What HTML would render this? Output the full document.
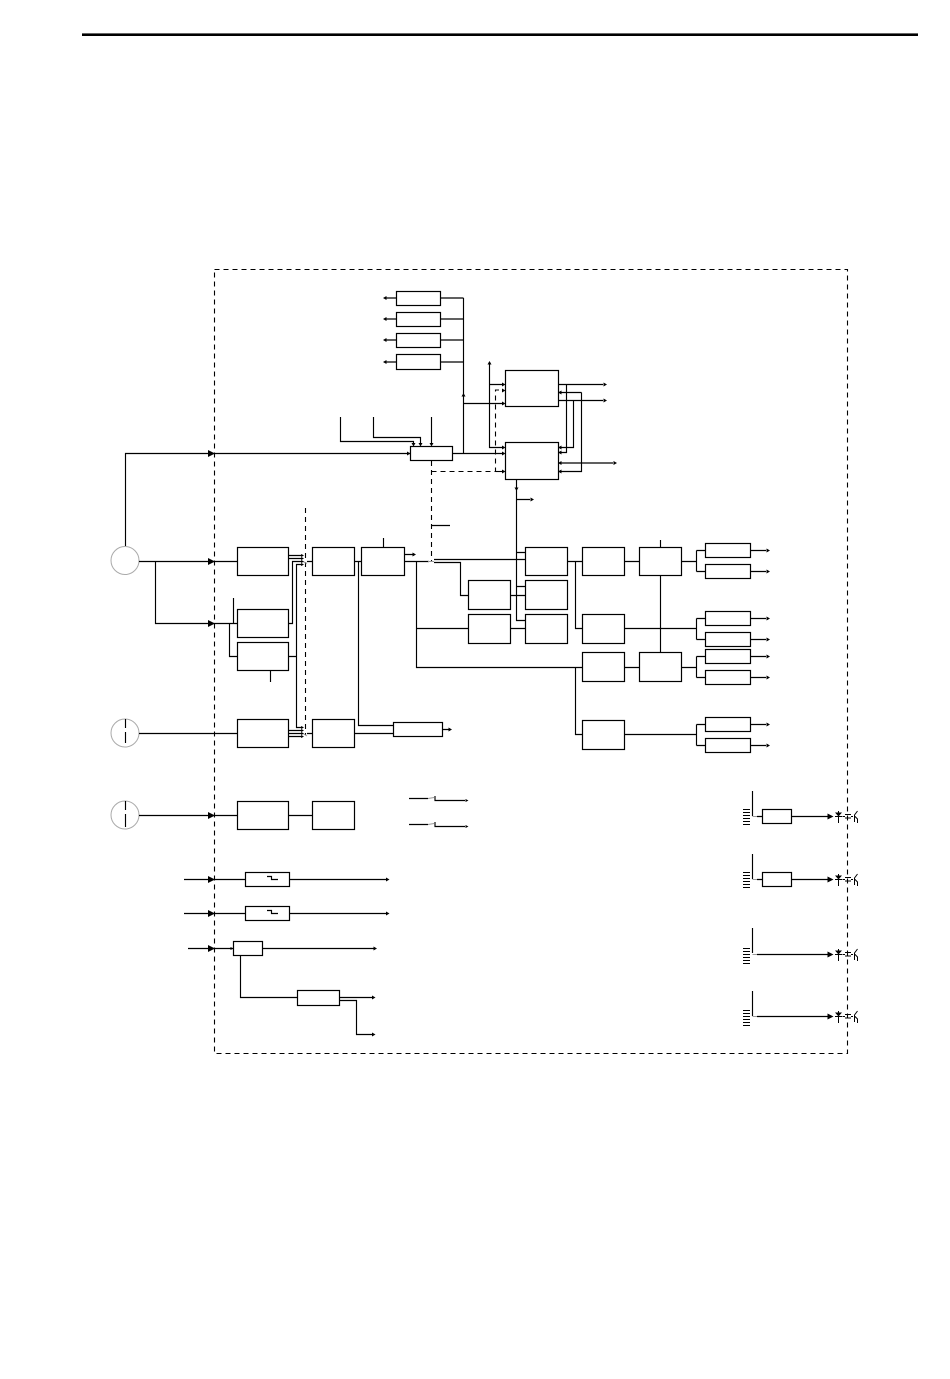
<!DOCTYPE html>
<html><head><meta charset="utf-8"><title>Block diagram</title>
<style>html,body{margin:0;padding:0;background:#fff}svg{display:block}</style></head>
<body>
<svg xmlns="http://www.w3.org/2000/svg" width="950" height="1379" viewBox="0 0 950 1379">
<rect width="950" height="1379" fill="#fff"/>
<rect x="82" y="33.4" width="836" height="2.6" fill="#000"/>
<g fill="none" stroke="#000" stroke-width="1.1" stroke-dasharray="5 4">
<path d="M214.5 269.5H847.5V1053.5H214.5Z"/>
<path d="M305.5 508V735"/>
<path d="M431.5 461V561"/>
<path d="M431.5 471.5H495.5V390H502"/>
<path d="M495.5 471.5H502" stroke-dasharray="none"/>
</g>
<g fill="#fff" stroke="#000" stroke-width="1.2">
<rect x="396.5" y="291.5" width="44" height="14"/>
<rect x="396.5" y="312.5" width="44" height="14"/>
<rect x="396.5" y="333.5" width="44" height="14"/>
<rect x="396.5" y="354.5" width="44" height="15"/>
<rect x="505.5" y="370.5" width="53" height="36"/>
<rect x="505.5" y="442.5" width="53" height="37"/>
<rect x="410.5" y="446.5" width="42" height="14"/>
<rect x="237.5" y="547.5" width="51" height="28"/>
<rect x="237.5" y="609.5" width="51" height="28"/>
<rect x="237.5" y="642.5" width="51" height="28"/>
<rect x="237.5" y="719.5" width="51" height="28"/>
<rect x="237.5" y="801.5" width="51" height="28"/>
<rect x="312.5" y="547.5" width="42" height="28"/>
<rect x="312.5" y="719.5" width="42" height="28"/>
<rect x="312.5" y="801.5" width="42" height="28"/>
<rect x="361.5" y="547.5" width="43" height="28"/>
<rect x="393.5" y="722.5" width="49" height="14"/>
<rect x="468.5" y="580.5" width="42" height="29"/>
<rect x="468.5" y="614.5" width="42" height="29"/>
<rect x="525.5" y="547.5" width="42" height="28"/>
<rect x="525.5" y="580.5" width="42" height="29"/>
<rect x="525.5" y="614.5" width="42" height="29"/>
<rect x="582.5" y="547.5" width="42" height="28"/>
<rect x="582.5" y="614.5" width="42" height="29"/>
<rect x="582.5" y="652.5" width="42" height="29"/>
<rect x="582.5" y="720.5" width="42" height="29"/>
<rect x="639.5" y="547.5" width="42" height="28"/>
<rect x="639.5" y="652.5" width="42" height="29"/>
<rect x="705.5" y="543.5" width="45" height="14"/>
<rect x="705.5" y="564.5" width="45" height="14"/>
<rect x="705.5" y="611.5" width="45" height="14"/>
<rect x="705.5" y="632.5" width="45" height="14"/>
<rect x="705.5" y="649.5" width="45" height="14"/>
<rect x="705.5" y="670.5" width="45" height="14"/>
<rect x="705.5" y="717.5" width="45" height="14"/>
<rect x="705.5" y="738.5" width="45" height="14"/>
<rect x="245.5" y="872.5" width="44" height="14"/>
<rect x="245.5" y="906.5" width="44" height="14"/>
<rect x="233.5" y="941.5" width="29" height="14"/>
<rect x="297.5" y="990.5" width="42" height="15"/>
<rect x="762.5" y="809.5" width="29" height="14"/>
<rect x="762.5" y="872.5" width="29" height="14"/>
</g>
<g fill="#fff" stroke="#aaa" stroke-width="1">
<circle cx="125" cy="560.5" r="14"/>
<circle cx="125" cy="733" r="14"/>
<circle cx="125" cy="815" r="14"/>
</g>
<g fill="none" stroke="#000" stroke-width="1.15">
<path d="M125.5 546V453.5H410M452 453.5H502"/>
<path d="M139 561.5H237M155.5 561.5V623.5H237M139 733.5H237M139 815.5H237M288 815.5H312"/>
<path d="M125.5 719V728M125.5 732V743M125.5 801V810M125.5 814V827"/>
<path d="M233.5 598V623.5M229.5 623.5V656.5H237M270.5 670V682"/>
<path d="M386 298H396M386 319H396M386 340H396M386 362H396"/>
<path d="M440 298H463.5M440 319H463.5M440 340H463.5M440 362H463.5M463.5 298V453.5M463.5 403.5H502"/>
<path d="M489.5 362V447.5H502M489.5 384.5H502"/>
<path d="M340.5 417V441.5H413.5V444M373.5 417V437.5H420.5V444M431.5 417V444"/>
<path d="M558 384.5H603M558 400.5H603M566.5 384.5V452.5H561M573.5 400.5V447.5H561M581.5 392.5V471.5H561M561 392.5H581.5M561 463H613"/>
<path d="M516.5 479V620.5H525M516.5 499.5H530M516.5 552.5H525M516.5 586.5H525"/>
<path d="M431.5 525.5H450"/>
<path d="M288 555.5H303M288 558.5H303M288 623.5H292.5V561.5H303M288 656.5H296.5V564.5H303M296.5 564.5V727.5H303M288 730.5H303M288 733.5H303M288 736.5H303"/>
<path d="M307 561.5H312M307 733.5H312M354 561.5H361M354 733.5H393M358.5 561.5V725.5H393M442 729.5H449"/>
<path d="M383.5 538V547M404 554.5H413M404 561.5H429M416.5 561.5V667.5H575.5M416.5 628.5H468"/>
<path d="M434 559.5H525M434 562.5H460.5V595.5H468M510 595.5H525M510 628.5H525"/>
<path d="M567 561.5H582M575.5 561.5V628.5H582M575.5 667.5H582M575.5 667.5V734.5H582"/>
<path d="M624 561.5H639M660.5 540V547M660.5 575V652M624 628.5H696.5M624 667.5H639M624 734.5H696.5"/>
<path d="M681 561.5H696.5M696.5 550.5V571.5M696.5 550.5H705M696.5 571.5H705"/>
<path d="M696.5 618.5V639.5M696.5 618.5H705M696.5 639.5H705"/>
<path d="M681 667.5H696.5M696.5 656.5V677.5M696.5 656.5H705M696.5 677.5H705"/>
<path d="M696.5 724.5V745.5M696.5 724.5H705M696.5 745.5H705"/>
<path d="M750 550.5H766M750 571.5H766M750 618.5H766M750 639.5H766M750 656.5H766M750 677.5H766M750 724.5H766M750 745.5H766"/>
<path d="M409 798.5H428M435 796V800.5H465M409 824.5H428M435 822V826.5H465"/>
<path d="M184 879.5H245M289 879.5H386M184 913.5H245M289 913.5H386"/>
<path d="M267 876.5H271.5V879.5H278M267 910.5H271.5V913.5H278"/>
<path d="M188 948.5H233M262 948.5H374M240.5 955V997.5H297M339 997.5H372M339 1000.5H356.5V1034.5H372"/>
<path d="M752.5 791V816M752.5 854V879M752.5 928V953M752.5 991V1016"/>
<path d="M757 816.5H762M791 816.5H828M757 879.5H762M791 879.5H828M757 954.5H828M757 1016.5H828"/>
</g>
<g fill="none" stroke="#999" stroke-width="1">
<path d="M303 561.5L307 563.5M303 733.5L307 736M428 561.5H434M428 798.5L434 797.5M428 824.5L434 823.5M752.5 816.5H757M752.5 879.5H757M752.5 954.5H757M752.5 1016.5H757"/>
</g>
<g fill="none" stroke="#000" stroke-width="1">
<path d="M743 809.5H750M743 812.5H750M743 815.5H750M743 818.5H750M743 821.5H750M743 824.5H750"/>
<path d="M743 872.5H750M743 875.5H750M743 878.5H750M743 881.5H750M743 884.5H750M743 887.5H750"/>
<path d="M743 948.5H750M743 951.5H750M743 954.5H750M743 957.5H750M743 960.5H750M743 963.5H750"/>
<path d="M743 1010.5H750M743 1013.5H750M743 1016.5H750M743 1019.5H750M743 1022.5H750M743 1025.5H750"/>
<path d="M838.5 811V823M835 816.5H842M845 814.5H851M845 818H851M842.5 816.5H845M851 816.5H853M857.5 811L854.5 815V822M854.5 816L857.5 819V823"/>
<path d="M838.5 874V886M835 879.5H842M845 877.5H851M845 881H851M842.5 879.5H845M851 879.5H853M857.5 874L854.5 878V885M854.5 879L857.5 882V886"/>
<path d="M838.5 949V961M835 954.5H842M845 952.5H851M845 956H851M842.5 954.5H845M851 954.5H853M857.5 949L854.5 953V960M854.5 954L857.5 957V961"/>
<path d="M838.5 1011V1023M835 1016.5H842M845 1014.5H851M845 1018H851M842.5 1016.5H845M851 1016.5H853M857.5 1011L854.5 1015V1022M854.5 1016L857.5 1019V1023"/>
</g>
<g fill="#000" stroke="none">
<path d="M215 453.5l-7-3.5v7zM215 561.5l-7-3.5v7zM215 623.5l-7-3.5v7zM215 815.5l-7-3.5v7zM215 879.5l-7-3.5v7zM215 913.5l-7-3.5v7zM215 948.5l-7-3.5v7z"/>
<path d="M833.5 816.5l-6-3v6zM833.5 879.5l-6-3v6zM833.5 954.5l-6-3v6zM833.5 1016.5l-6-3v6z"/>
<path d="M383 298l3.5-2v4zM383 319l3.5-2v4zM383 340l3.5-2v4zM383 362l3.5-2v4z"/>
<path d="M463.5 393l-2 3.5h4zM489.5 361l-2 3.5h4zM516.5 491l-2-3.5h4z"/>
<path d="M413.5 446.5l-2-3.5h4zM420.5 446.5l-2-3.5h4zM431.5 446.5l-2-3.5h4zM410.5 453.5l-3.5-2v4z"/>
<path d="M505.5 384.5l-3.5-2v4zM505.5 390.5l-3.5-2v4zM505.5 403.5l-3.5-2v4zM505.5 447.5l-3.5-2v4zM505.5 453.5l-3.5-2v4zM505.5 471.5l-3.5-2v4z"/>
<path d="M607 384.5l-3.5-2v4zM607 400.5l-3.5-2v4zM617 463l-3.5-2v4zM534 499.5l-3.5-2v4z"/>
<path d="M558 392.5l3.5-2v4zM558 447.5l3.5-2v4zM558 452.5l3.5-2v4zM558 463l3.5-2v4zM558 471.5l3.5-2v4z"/>
<path d="M304 555.5l-3-1.5v3zM304 558.5l-3-1.5v3zM304 561.5l-3-1.5v3zM304 564.5l-3-1.5v3zM304 727.5l-3-1.5v3zM304 730.5l-3-1.5v3zM304 733.5l-3-1.5v3zM304 736.5l-3-1.5v3z"/>
<path d="M416 554.5l-3.5-2v4zM452 729.5l-3.5-2v4z"/>
<path d="M770 550.5l-3.5-2v4zM770 571.5l-3.5-2v4zM770 618.5l-3.5-2v4zM770 639.5l-3.5-2v4zM770 656.5l-3.5-2v4zM770 677.5l-3.5-2v4zM770 724.5l-3.5-2v4zM770 745.5l-3.5-2v4z"/>
<path d="M468.5 800.5l-3-1.5v3zM468.5 826.5l-3-1.5v3zM389.5 879.5l-3.5-2v4zM389.5 913.5l-3.5-2v4zM377 948.5l-3.5-2v4zM375.5 997.5l-3.5-2v4zM375.5 1034.5l-3.5-2v4zM233.5 948.5l-3-1.5v3z"/>
<path d="M835 812.5h7l-3.5 4zM835 875.5h7l-3.5 4zM835 950.5h7l-3.5 4zM835 1012.5h7l-3.5 4z"/>
</g>
</svg>
</body></html>
